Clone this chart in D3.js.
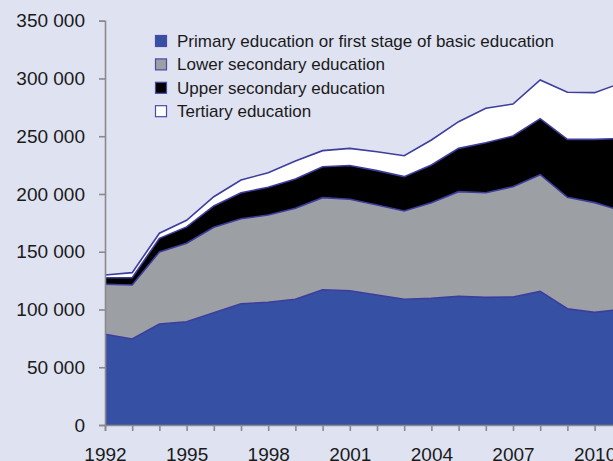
<!DOCTYPE html>
<html>
<head>
<meta charset="utf-8">
<script src="https://cdn.jsdelivr.net/npm/d3@7"></script>
<style>
  html, body { margin: 0; padding: 0; background: #dfe2f1; overflow: hidden; }
  svg { display: block; font-family: 'Liberation Sans', Arial, sans-serif; }
</style>
</head>
<body>
<div id="chart"></div>
<script>
const years = d3.range(1992, 2012)
const primary = [78500, 74500, 87400, 89400, 97200, 105000, 106200, 108800, 117100, 116200, 112500, 108800, 109700, 111400, 110500, 110800, 115700, 100700, 97500, 100200]
const lowerSecondary = [43300, 46700, 62400, 67900, 73900, 73500, 75600, 78800, 79700, 79200, 78000, 76500, 82700, 90600, 90600, 95500, 101000, 96400, 95000, 85100]
const upperSecondary = [5700, 6300, 11800, 14200, 18500, 22600, 24000, 25400, 26800, 29300, 29700, 29700, 32700, 37500, 43300, 43900, 48500, 50200, 54800, 62800]
const tertiary = [2400, 4400, 4400, 5700, 8000, 11000, 12600, 15500, 13900, 14800, 16400, 18100, 21600, 23100, 29800, 27700, 33500, 40700, 40400, 48100]
const seriesNames = ['Primary education or first stage of basic education', 'Lower secondary education', 'Upper secondary education', 'Tertiary education']
const colors = ['#3651a3', '#9c9fa3', '#000000', '#ffffff']
const yTicks = [0, 50000, 100000, 150000, 200000, 250000, 300000, 350000]

const width = 613, height = 461
const rows = years.map((y, i) => ({ year: y, s0: primary[i], s1: lowerSecondary[i], s2: upperSecondary[i], s3: tertiary[i] }))
const keys = ['s0', 's1', 's2', 's3']

const x = d3.scaleLinear().domain([1992, 2011]).range([105, 621.8])
const y = d3.scaleLinear().domain([0, 350000]).range([425, 20.7])

const svg = d3.select('#chart').append('svg').attr('width', width).attr('height', height)

const stacked = d3.stack().keys(keys)(rows)
const area = d3.area().x(d => x(d.data.year)).y0(d => y(d[0])).y1(d => y(d[1]))
const topLine = d3.line().x(d => x(d.data.year)).y(d => y(d[1]))

svg.selectAll('path.layer').data(stacked).enter().append('path')
    .attr('class', 'layer')
    .attr('d', area)
    .attr('fill', (d, i) => colors[i])
svg.selectAll('path.edge').data(stacked).enter().append('path')
    .attr('class', 'edge')
    .attr('d', topLine)
    .attr('fill', 'none')
    .attr('stroke', '#3d3d9e')
    .attr('stroke-width', 1.6)

const fmt = d3.formatLocale({ decimal: '.', thousands: ' ', grouping: [3], currency: ['', ''] }).format(',')

const yAxis = svg.append('g').attr('transform', 'translate(105,0)')
    .call(d3.axisLeft(y).tickValues(yTicks).tickFormat(fmt).tickSize(6).tickPadding(14))
const xAxis = svg.append('g').attr('transform', 'translate(0,425)')
    .call(d3.axisBottom(x).tickValues(years).tickFormat(d => (d - 1992) % 3 === 0 ? d : '').tickSize(6).tickPadding(17))

for (const g of [yAxis, xAxis]) {
    g.selectAll('path.domain').attr('stroke', '#8a8a8e').attr('stroke-width', 1.6)
    g.selectAll('.tick line').attr('stroke', '#8a8a8e').attr('stroke-width', 1.6)
    g.selectAll('text').attr('fill', '#1a1a1a').style('font-size', '19px').style('font-family', "'Liberation Sans', Arial, sans-serif")
}

const legend = svg.append('g').attr('transform', 'translate(155,41)')
seriesNames.forEach((name, i) => {
    const row = legend.append('g').attr('transform', `translate(0,${i * 23.4})`)
    row.append('rect').attr('x', 0.5).attr('y', -5.5).attr('width', 11).attr('height', 11)
        .attr('fill', colors[i]).attr('stroke', '#4a4aa6').attr('stroke-width', 1.2)
    row.append('text').attr('x', 22).attr('y', 0).attr('dy', '0.35em')
        .attr('fill', '#1a1a1a').style('font-size', '17px').text(name)
})
</script>
</body>
</html>
